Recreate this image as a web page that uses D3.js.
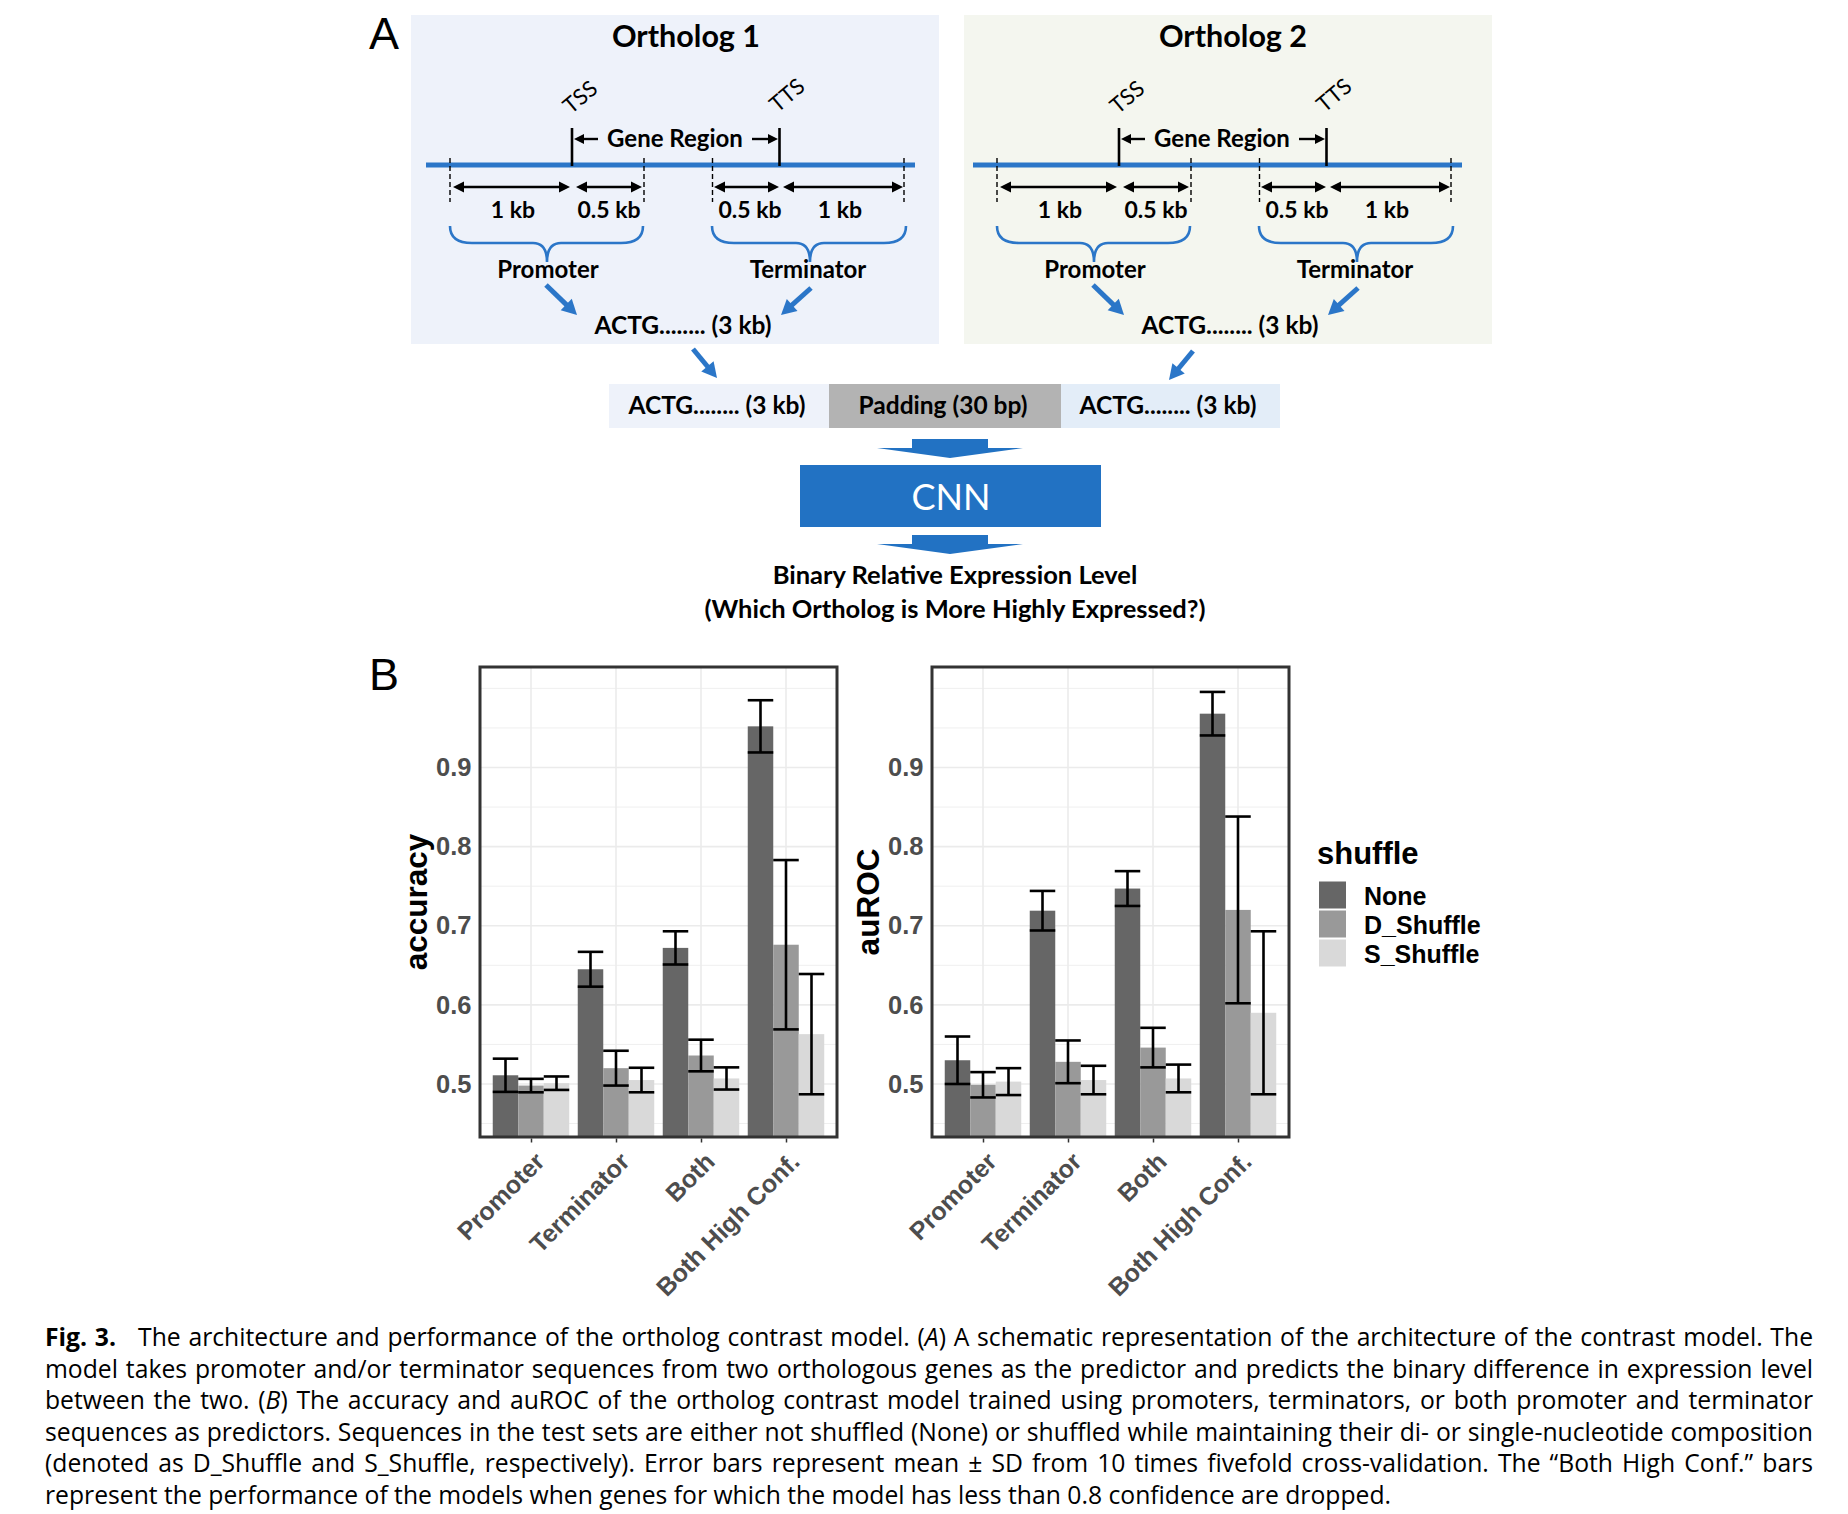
<!DOCTYPE html>
<html><head><meta charset="utf-8">
<script src="https://cdn.jsdelivr.net/npm/d3@7"></script>
<style>
body{margin:0;background:#fff;}
svg{display:block;}
</style>
</head><body>
<svg id="fig" width="1848" height="1514"></svg>
<script>
// ---------------- DATA ----------------
const categories = ["Promoter", "Terminator", "Both", "Both High Conf."];
const series = ["None", "D_Shuffle", "S_Shuffle"];
const fillColors = ["#666666", "#999999", "#D9D9D9"];

const accuracyNone = [0.511, 0.645, 0.672, 0.952];
const accuracyNoneSD = [0.021, 0.022, 0.021, 0.033];
const accuracyD = [0.498, 0.520, 0.536, 0.676];
const accuracyDSD = [0.0085, 0.022, 0.020, 0.107];
const accuracyS = [0.501, 0.505, 0.507, 0.563];
const accuracySSD = [0.0085, 0.0155, 0.014, 0.076];

const aurocNone = [0.530, 0.719, 0.747, 0.968];
const aurocNoneSD = [0.030, 0.025, 0.022, 0.0275];
const aurocD = [0.499, 0.528, 0.546, 0.720];
const aurocDSD = [0.016, 0.027, 0.025, 0.118];
const aurocS = [0.503, 0.505, 0.507, 0.590];
const aurocSSD = [0.017, 0.018, 0.0175, 0.103];

const yTickValues = [0.5, 0.6, 0.7, 0.8, 0.9];
const yMinorValues = [0.45, 0.55, 0.65, 0.75, 0.85, 0.95, 1.0];
const yLimits = [0.433, 1.027];

const captionLines = [
  [["b","Fig. 3."],["g","The architecture and performance of the ortholog contrast model. ("],["i","A"],["n",") A schematic representation of the architecture of the contrast model. The"]],
  [["n","model takes promoter and/or terminator sequences from two orthologous genes as the predictor and predicts the binary difference in expression level"]],
  [["n","between the two. ("],["i","B"],["n",") The accuracy and auROC of the ortholog contrast model trained using promoters, terminators, or both promoter and terminator"]],
  [["n","sequences as predictors. Sequences in the test sets are either not shuffled (None) or shuffled while maintaining their di- or single-nucleotide composition"]],
  [["n","(denoted as D_Shuffle and S_Shuffle, respectively). Error bars represent mean ± SD from 10 times fivefold cross-validation. The \u201CBoth High Conf.\u201D bars"]],
  [["n","represent the performance of the models when genes for which the model has less than 0.8 confidence are dropped."]]
];

// ---------------- SETUP ----------------
const svg = d3.select("#fig");
const BLUE = "#2B76C8";
const DFONT = "Lato, 'Open Sans', sans-serif";
const CFONT = "'Liberation Sans', Arial, sans-serif";
const PFONT = "'Open Sans', 'Noto Sans', sans-serif";

function head(g, x1, y1, x2, y2, len, wid, color) {
  const a = Math.atan2(y2 - y1, x2 - x1);
  const bx = x2 - len * Math.cos(a), by = y2 - len * Math.sin(a);
  const px = -Math.sin(a) * wid / 2, py = Math.cos(a) * wid / 2;
  g.append("path")
    .attr("d", `M${x2},${y2}L${bx + px},${by + py}L${bx - px},${by - py}Z`)
    .attr("fill", color);
}
function arrow(g, x1, y1, x2, y2, o) {
  const a = Math.atan2(y2 - y1, x2 - x1);
  const sx = o.both ? x1 + o.len * 0.8 * Math.cos(a) : x1;
  const sy = o.both ? y1 + o.len * 0.8 * Math.sin(a) : y1;
  const ex = x2 - o.len * 0.8 * Math.cos(a), ey = y2 - o.len * 0.8 * Math.sin(a);
  g.append("line").attr("x1", sx).attr("y1", sy).attr("x2", ex).attr("y2", ey)
    .attr("stroke", o.color).attr("stroke-width", o.w);
  head(g, x1, y1, x2, y2, o.len, o.wid, o.color);
  if (o.both) head(g, x2, y2, x1, y1, o.len, o.wid, o.color);
}
function txt(g, x, y, s, size, weight, anchor, color) {
  return g.append("text").attr("x", x).attr("y", y).text(s)
    .attr("font-family", DFONT).attr("font-size", size)
    .attr("font-weight", weight || "bold")
    .attr("text-anchor", anchor || "middle").attr("fill", color || "#000");
}
function brace(g, x0, x1, cx, top, mid, tip) {
  const d = `M${x0},${top}Q${x0},${mid} ${x0 + 22},${mid}L${cx - 14},${mid}Q${cx},${mid} ${cx},${tip}` +
            `M${x1},${top}Q${x1},${mid} ${x1 - 22},${mid}L${cx + 14},${mid}Q${cx},${mid} ${cx},${tip}`;
  g.append("path").attr("d", d).attr("fill", "none").attr("stroke", BLUE).attr("stroke-width", 2.6);
}

// ---------------- PANEL A ----------------
svg.append("text").attr("x", 369).attr("y", 49).text("A")
  .attr("font-family", CFONT).attr("font-size", 45).attr("fill", "#000");

function ortholog(dx, boxX, fill, title) {
  const g = svg.append("g");
  g.append("rect").attr("x", boxX).attr("y", 15).attr("width", 528).attr("height", 329).attr("fill", fill);
  const t = svg.append("g").attr("transform", `translate(${dx},0)`);
  txt(t, 686, 47, title, 30.5);
  t.append("text").attr("transform", "translate(585,103) rotate(-40)").text("TSS")
    .attr("font-family", DFONT).attr("font-size", 22).attr("text-anchor", "middle");
  t.append("text").attr("transform", "translate(792,101) rotate(-40)").text("TTS")
    .attr("font-family", DFONT).attr("font-size", 22).attr("text-anchor", "middle");
  t.append("line").attr("x1", 426).attr("x2", 915).attr("y1", 165).attr("y2", 165)
    .attr("stroke", BLUE).attr("stroke-width", 5);
  [572, 779.5].forEach(x => t.append("line").attr("x1", x).attr("x2", x).attr("y1", 128).attr("y2", 166)
    .attr("stroke", "#000").attr("stroke-width", 2.6));
  arrow(t, 598, 139, 574, 139, {w: 2.4, len: 10, wid: 10, color: "#000"});
  arrow(t, 752, 139, 778, 139, {w: 2.4, len: 10, wid: 10, color: "#000"});
  txt(t, 675, 147, "Gene Region", 24);
  [450, 644, 712.5, 904].forEach(x => t.append("line").attr("x1", x).attr("x2", x).attr("y1", 158).attr("y2", 202)
    .attr("stroke", "#000").attr("stroke-width", 1.4).attr("stroke-dasharray", "5,3"));
  [[453, 570], [576, 642], [714, 779], [783, 903]].forEach(p =>
    arrow(t, p[0], 187, p[1], 187, {w: 2.6, len: 11, wid: 11, color: "#000", both: true}));
  txt(t, 513, 218, "1 kb", 23);
  txt(t, 609, 218, "0.5 kb", 23);
  txt(t, 750, 218, "0.5 kb", 23);
  txt(t, 840, 218, "1 kb", 23);
  brace(t, 450, 643, 547, 226, 243, 262);
  brace(t, 712, 906, 810, 226, 243, 262);
  txt(t, 548, 278, "Promoter", 24);
  txt(t, 808, 278, "Terminator", 24);
  arrow(t, 546, 285, 577, 315, {w: 5, len: 15, wid: 16, color: BLUE});
  arrow(t, 811, 288, 781, 315, {w: 5, len: 15, wid: 16, color: BLUE});
  txt(t, 683, 334, "ACTG........ (3 kb)", 24.5);
}
ortholog(0, 411, "#EEF2FA", "Ortholog 1");
ortholog(547, 964, "#F4F6EF", "Ortholog 2");

const gA = svg.append("g");
arrow(gA, 693, 349, 717, 378, {w: 5, len: 15, wid: 16, color: BLUE});
arrow(gA, 1193, 351, 1169, 380, {w: 5, len: 15, wid: 16, color: BLUE});
gA.append("rect").attr("x", 609).attr("y", 384).attr("width", 220).attr("height", 44).attr("fill", "#EEF2FA");
gA.append("rect").attr("x", 829).attr("y", 384).attr("width", 232).attr("height", 44).attr("fill", "#B3B3B3");
gA.append("rect").attr("x", 1061).attr("y", 384).attr("width", 219).attr("height", 44).attr("fill", "#E3EDF8");
txt(gA, 717, 414, "ACTG........ (3 kb)", 24.5);
txt(gA, 943, 414, "Padding (30 bp)", 24.5);
txt(gA, 1168, 414, "ACTG........ (3 kb)", 24.5);
[0, 96].forEach(o => {
  gA.append("path").attr("d",
    `M912,${439 + o}L988,${439 + o}L988,${448 + o}L1023,${448 + o}L950,${458 + o}L877,${448 + o}L912,${448 + o}Z`)
    .attr("fill", "#2272C3");
});
gA.append("rect").attr("x", 800).attr("y", 465).attr("width", 301).attr("height", 62).attr("fill", "#2272C3");
txt(gA, 951, 510, "CNN", 36, "normal", "middle", "#fff");
txt(gA, 955, 584, "Binary Relative Expression Level", 25.5);
txt(gA, 955, 618, "(Which Ortholog is More Highly Expressed?)", 25.5);

// ---------------- PANEL B ----------------
svg.append("text").attr("x", 369).attr("y", 690).text("B")
  .attr("font-family", CFONT).attr("font-size", 45).attr("fill", "#000");

const panelTop = 667, panelBottom = 1137, panelW = 357;
const y = d3.scaleLinear().domain(yLimits).range([panelBottom, panelTop]);

function drawPanel(x0, yTitle, means, sds) {
  const g = svg.append("g");
  const x = d3.scalePoint().domain(categories).range([x0, x0 + panelW]).padding(0.6);
  const step = x.step();
  const sub = d3.scaleBand().domain(series).range([-0.45 * step, 0.45 * step]).padding(0);
  const bw = sub.bandwidth();

  g.append("rect").attr("x", x0).attr("y", panelTop).attr("width", panelW)
    .attr("height", panelBottom - panelTop).attr("fill", "#fff");
  g.selectAll(".minor").data(yMinorValues).join("line")
    .attr("x1", x0).attr("x2", x0 + panelW).attr("y1", d => y(d)).attr("y2", d => y(d))
    .attr("stroke", "#EFEFEF").attr("stroke-width", 1);
  g.selectAll(".major").data(yTickValues).join("line")
    .attr("x1", x0).attr("x2", x0 + panelW).attr("y1", d => y(d)).attr("y2", d => y(d))
    .attr("stroke", "#EBEBEB").attr("stroke-width", 1.6);
  g.selectAll(".vgrid").data(categories).join("line")
    .attr("x1", d => x(d)).attr("x2", d => x(d)).attr("y1", panelTop).attr("y2", panelBottom)
    .attr("stroke", "#EBEBEB").attr("stroke-width", 1.6);

  const rows = [];
  series.forEach((s, si) => categories.forEach((c, ci) =>
    rows.push({s, c, si, m: means[si][ci], sd: sds[si][ci]})));

  g.selectAll(".bar").data(rows).join("rect")
    .attr("x", d => x(d.c) + sub(d.s))
    .attr("y", d => y(d.m))
    .attr("width", bw)
    .attr("height", d => y(yLimits[0]) - y(d.m))
    .attr("fill", d => fillColors[d.si]);

  const eb = g.selectAll(".eb").data(rows).join("g");
  eb.append("line")
    .attr("x1", d => x(d.c) + sub(d.s) + bw / 2).attr("x2", d => x(d.c) + sub(d.s) + bw / 2)
    .attr("y1", d => y(d.m - d.sd)).attr("y2", d => y(d.m + d.sd));
  eb.append("line")
    .attr("x1", d => x(d.c) + sub(d.s)).attr("x2", d => x(d.c) + sub(d.s) + bw)
    .attr("y1", d => y(d.m + d.sd)).attr("y2", d => y(d.m + d.sd));
  eb.append("line")
    .attr("x1", d => x(d.c) + sub(d.s)).attr("x2", d => x(d.c) + sub(d.s) + bw)
    .attr("y1", d => y(d.m - d.sd)).attr("y2", d => y(d.m - d.sd));
  eb.selectAll("line").attr("stroke", "#000").attr("stroke-width", 2.6);

  g.append("rect").attr("x", x0).attr("y", panelTop).attr("width", panelW)
    .attr("height", panelBottom - panelTop).attr("fill", "none")
    .attr("stroke", "#333333").attr("stroke-width", 3);

  const ya = g.append("g").attr("transform", `translate(${x0 - 1.5},0)`)
    .call(d3.axisLeft(y).tickValues(yTickValues).tickSize(0).tickPadding(7).tickFormat(d3.format(".1f")));
  ya.select(".domain").remove();
  ya.selectAll("text").attr("font-family", CFONT).attr("font-size", 25.5)
    .attr("font-weight", "bold").attr("fill", "#4D4D4D");

  const xa = g.append("g").attr("transform", `translate(0,${panelBottom + 1.5})`)
    .call(d3.axisBottom(x).tickSize(4).tickPadding(0));
  xa.select(".domain").remove();
  xa.selectAll(".tick line").attr("stroke", "#333").attr("stroke-width", 1.5);
  xa.selectAll(".tick text")
    .attr("font-family", CFONT).attr("font-size", 25).attr("font-weight", "bold")
    .attr("fill", "#4D4D4D").attr("text-anchor", "end")
    .attr("y", 0).attr("dy", "0.72em")
    .attr("transform", "translate(2,12) rotate(-45)");

  g.append("text").attr("transform", `translate(${x0 - 53},${(panelTop + panelBottom) / 2}) rotate(-90)`)
    .attr("text-anchor", "middle").attr("font-family", CFONT).attr("font-size", 31.5)
    .attr("font-weight", "bold").attr("fill", "#000").text(yTitle);
}

drawPanel(480, "accuracy", [accuracyNone, accuracyD, accuracyS], [accuracyNoneSD, accuracyDSD, accuracySSD]);
drawPanel(932, "auROC", [aurocNone, aurocD, aurocS], [aurocNoneSD, aurocDSD, aurocSSD]);

// legend
const lg = svg.append("g");
lg.append("text").attr("x", 1317).attr("y", 864).text("shuffle")
  .attr("font-family", CFONT).attr("font-size", 31).attr("font-weight", "bold");
const key = d3.scaleBand().domain(series).range([881, 968]);
lg.selectAll(".k").data(series).join("rect")
  .attr("x", 1319).attr("y", d => key(d) + 0.5).attr("width", 27).attr("height", key.bandwidth() - 2)
  .attr("fill", (d, i) => fillColors[i]);
lg.selectAll(".kl").data(series).join("text")
  .attr("x", 1364).attr("y", d => key(d) + key.bandwidth() / 2).attr("dy", "0.36em")
  .text(d => d).attr("font-family", CFONT).attr("font-size", 25).attr("font-weight", "bold");

// ---------------- CAPTION ----------------
const capX = 45, capRight = 1813, capY0 = 1346, capLead = 31.6, figGap = 22;
const capTexts = captionLines.map((parts, i) => {
  const t = svg.append("text").attr("x", capX).attr("y", capY0 + i * capLead)
    .attr("font-family", PFONT).attr("font-size", 22).attr("fill", "#000")
    .style("white-space", "pre");
  parts.forEach(p => {
    const ts = t.append("tspan").text(p[1]);
    if (p[0] === "b") ts.attr("font-weight", "bold");
    if (p[0] === "i") ts.attr("font-style", "italic");
    if (p[0] === "g") ts.attr("dx", figGap);
  });
  return t;
});
const gapOf = i => captionLines[i].some(p => p[0] === "g") ? figGap : 0;
let capSize = 40;
capTexts.forEach((t, i) => {
  if (i === capTexts.length - 1) return;
  const nat = t.node().getComputedTextLength();
  capSize = Math.min(capSize, 22 * (capRight - capX - gapOf(i)) / nat * 0.995);
});
capTexts.forEach((t, i) => {
  t.attr("font-size", capSize);
  const natural = t.node().getComputedTextLength() + gapOf(i);
  const target = i < capTexts.length - 1 ? capRight - capX : 1391 - capX;
  const nSpaces = captionLines[i].map(p => p[1]).join("").split(" ").length - 1;
  if (nSpaces > 0) t.attr("word-spacing", (target - natural) / nSpaces);
});
</script>
</body></html>
